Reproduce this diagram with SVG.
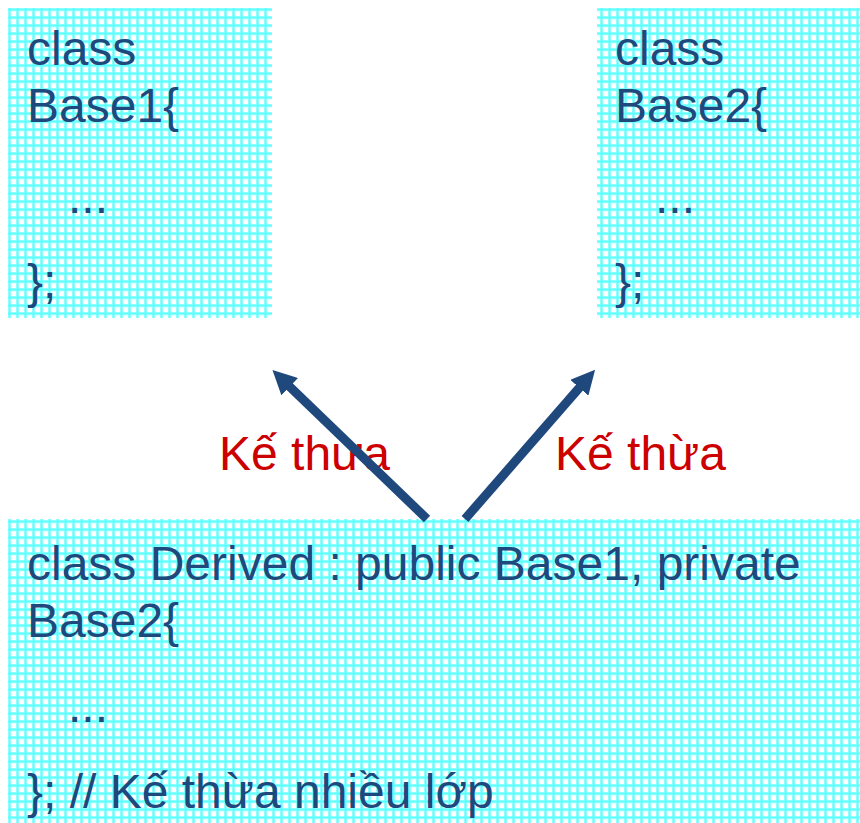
<svg xmlns="http://www.w3.org/2000/svg" width="860" height="823" viewBox="0 0 860 823">
  <style>
    .code { font-family: "Liberation Sans", Arial, sans-serif; font-size: 48px; fill: #1F497D; }
    .label { font-family: "Liberation Sans", Arial, sans-serif; font-size: 48px; fill: #CC0000; }
    .box { fill: url(#grid); }
    .conn { stroke: #1F497D; stroke-width: 9; fill: none; marker-end: url(#head); }
  </style>
  <defs>
    <!-- light cyan graph-paper fill used by the class boxes -->
    <pattern id="grid" patternUnits="userSpaceOnUse" x="8" y="8" width="8" height="8">
      <rect width="8" height="8" fill="#FFFFFF"/>
      <rect x="0" y="0" width="3.5" height="8" fill="#C4FFFF"/>
      <rect x="0" y="0" width="8" height="3.5" fill="#C4FFFF"/>
      <rect x="0.5" y="0" width="2" height="8" fill="#5CFFFF"/>
      <rect x="0" y="0.5" width="8" height="2" fill="#5CFFFF"/>
    </pattern>
    <marker id="head" markerUnits="userSpaceOnUse" viewBox="0 0 24 24" markerWidth="24" markerHeight="24" refX="1" refY="12" orient="auto">
      <path d="M0,0 L24,12 L0,24 z" fill="#1F497D"/>
    </marker>
  </defs>

  <g id="base1">
    <rect class="box" x="8" y="8" width="264" height="310"/>
    <text class="code" x="27" y="65">class</text>
    <text class="code" x="27" y="122">Base1{</text>
    <text class="code" x="68" y="213">...</text>
    <text class="code" x="27" y="298">};</text>
  </g>

  <g id="base2">
    <rect class="box" x="597" y="8" width="263" height="310"/>
    <text class="code" x="615" y="65">class</text>
    <text class="code" x="615" y="122">Base2{</text>
    <text class="code" x="655" y="213">...</text>
    <text class="code" x="615" y="298">};</text>
  </g>

  <g id="derived">
    <rect class="box" x="8" y="519" width="852" height="304"/>
    <text class="code" x="27" y="580">class Derived : public Base1, private</text>
    <text class="code" x="27" y="637">Base2{</text>
    <text class="code" x="68" y="722">...</text>
    <text class="code" x="27" y="808">}; // Kế thừa nhiều lớp</text>
  </g>

  <g id="labels">
    <text class="label" x="219" y="470">Kế thừa</text>
    <text class="label" x="555" y="470">Kế thừa</text>
  </g>

  <g id="connectors">
    <line class="conn" x1="427" y1="519" x2="289" y2="386"/>
    <line class="conn" x1="465" y1="519" x2="580" y2="387"/>
  </g>
</svg>
